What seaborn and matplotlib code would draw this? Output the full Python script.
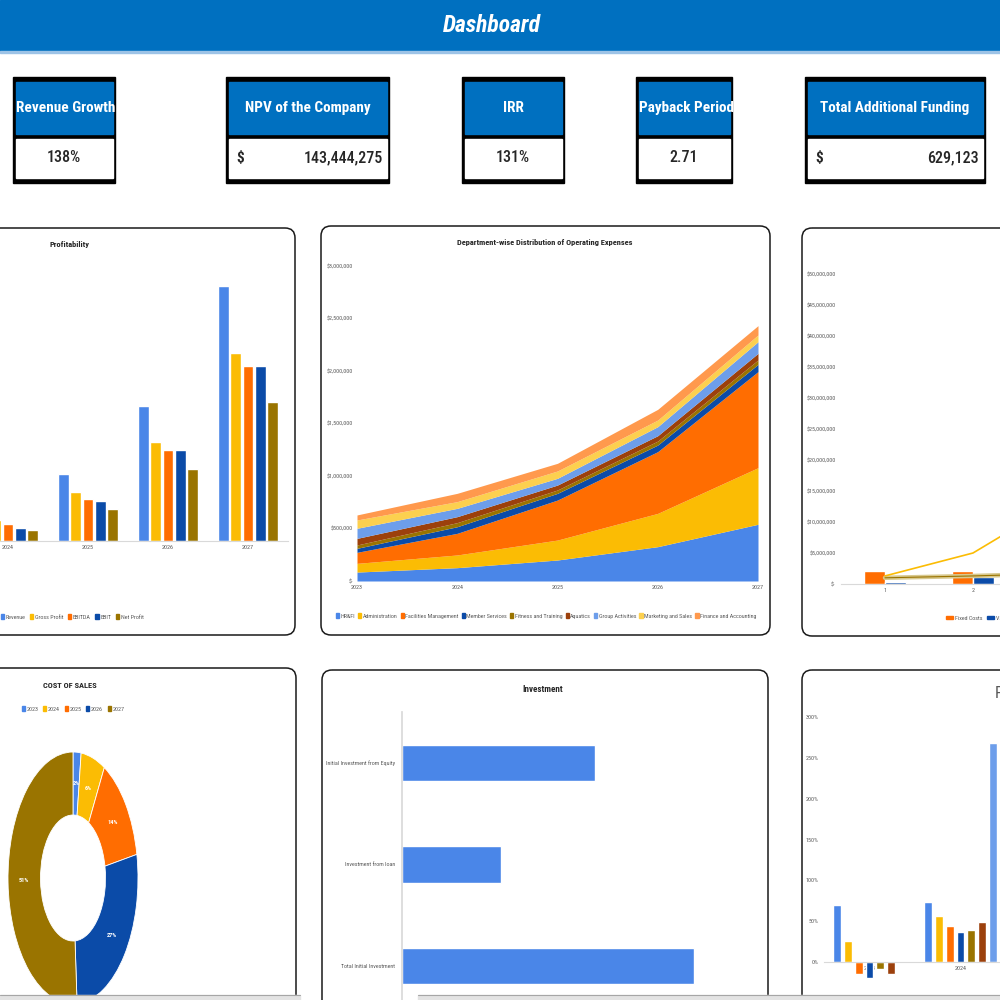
import numpy as np
import pandas as pd
import matplotlib
matplotlib.use("Agg")
import matplotlib.pyplot as plt
import seaborn as sns
from matplotlib.patches import Rectangle, FancyBboxPatch
from matplotlib import font_manager as fm
from matplotlib.ticker import FuncFormatter

# ---------------- data ----------------
years = ["2023", "2024", "2025", "2026", "2027"]

kpi_titles = ["Revenue Growth", "NPV of the Company", "IRR", "Payback Period", "Total Additional Funding"]
kpi_values = ["138%", "143,444,275", "131%", "2.71", "629,123"]
kpi_dollar = [False, True, False, False, True]

# Profitability ($M)
profit_metrics = ["Revenue", "Gross Profit", "EBITDA", "EBIT", "Net Profit"]
revenue = [1.3, 5.0, 13.5, 27.0, 51.0]
gross_profit = [0.9, 4.2, 9.8, 19.8, 37.6]
ebitda = [-0.2, 3.4, 8.4, 18.2, 35.0]
ebit = [-0.3, 2.6, 8.0, 18.2, 35.0]
net_profit = [-0.2, 2.2, 6.4, 14.4, 27.8]

# Department-wise operating expenses ($)
departments = ["HR&FI", "Administration", "Facilities Management", "Member Services",
               "Fitness and Training", "Aquatics", "Group Activities",
               "Marketing and Sales", "Finance and Accounting"]
hr_fi = [85000, 127000, 200000, 327000, 540000]
administration = [83000, 121000, 190000, 317000, 539000]
facilities = [105000, 206000, 381000, 588000, 915000]
member_services = [38000, 63000, 64000, 63000, 69000]
fitness_training = [32000, 39000, 32000, 38000, 42000]
aquatics = [63000, 57000, 47000, 51000, 63000]
group_activities = [96000, 79000, 64000, 86000, 111000]
marketing_sales = [79000, 64000, 70000, 63000, 64000]
finance_accounting = [48000, 79000, 73000, 102000, 89000]

# Break-even ($)
be_periods = ["1", "2", "3", "4", "5"]
be_fixed = [2.1e6, 2.1e6, 2.1e6, 2.1e6, 2.1e6]
be_variable = [0.4e6, 1.2e6, 3.0e6, 6.0e6, 11.0e6]
be_revenue = [1.3e6, 5.0e6, 13.5e6, 27.0e6, 51.0e6]
be_point = [1.0e6, 1.3e6, 1.7e6, 2.2e6, 2.8e6]

# Cost of sales share (%)
cos_share = [2, 6, 14, 27, 51]

# Investment ($)
inv_items = ["Initial Investment from Equity", "Investment from loan", "Total Initial Investment"]
inv_values = [415000, 214123, 629123]

# Ratios
ratio_names = ["Gross Margin", "EBITDA Margin", "EBIT Margin", "Net Margin",
               "Return on Assets", "Return on Equity", "Revenue Growth"]
gross_margin = [0.70, 0.73, 0.74, 0.75, 0.76]
ebitda_margin = [0.26, 0.57, 0.62, 0.67, 0.69]
ebit_margin = [-0.15, 0.44, 0.59, 0.67, 0.69]
net_margin = [-0.20, 0.37, 0.47, 0.53, 0.55]
roa = [-0.09, 0.39, 0.52, 0.60, 0.65]
roe = [-0.15, 0.49, 0.62, 0.70, 0.74]
rev_growth = [0.0, 2.68, 1.70, 1.00, 0.89]

# ---------------- style ----------------
BLUE = "#0070C0"
C_BLUE, C_YEL, C_ORA, C_DBL, C_OLV, C_BRN = "#4a86e8", "#fbbc04", "#ff6d01", "#0b4ba8", "#9a7400", "#9c400c"
C_LBL, C_LYE, C_LOR = "#6d9eeb", "#fcd04f", "#ff994d"
GREY_TXT = "#595959"

sns.set_theme(style="white")
avail = {f.name for f in fm.fontManager.ttflist}
NARROW = next((f for f in ["Liberation Sans Narrow", "Roboto Condensed", "Roboto", "DejaVu Sans"] if f in avail),
              "DejaVu Sans")
plt.rcParams["font.family"] = [NARROW, "DejaVu Sans"]

fig = plt.figure(figsize=(10, 10), dpi=100)


def px_axes(x0, y0, x1, y1, **kw):
    return fig.add_axes([x0 / 1000, 1 - y1 / 1000, (x1 - x0) / 1000, (y1 - y0) / 1000], **kw)


def style_axes(ax):
    ax.set_facecolor("none")
    for s in ["top", "right", "left"]:
        ax.spines[s].set_visible(False)
    ax.spines["bottom"].set_color("#d9d9d9")
    ax.spines["bottom"].set_linewidth(0.8)
    ax.tick_params(length=0, labelsize=4.3, colors=GREY_TXT, pad=3)
    ax.set_xlabel("")
    ax.set_ylabel("")


def add_legend(ax, colors, labels, cx, cy, loc="center", hl=0.55, hh=0.9, cs=0.8):
    handles = [Rectangle((0, 0), 1, 1, color=c) for c in colors]
    leg = ax.legend(handles, labels, loc=loc, bbox_to_anchor=(cx / 1000, 1 - cy / 1000),
                    bbox_transform=fig.transFigure, ncol=len(labels), frameon=False,
                    fontsize=4.3, handlelength=hl, handleheight=hh, handletextpad=0.25,
                    columnspacing=cs, borderaxespad=0, borderpad=0)
    for t in leg.get_texts():
        t.set_color(GREY_TXT)


bg = px_axes(0, 0, 1000, 1000)
bg.set_xlim(0, 1000)
bg.set_ylim(1000, 0)
bg.axis("off")

# header
bg.add_patch(Rectangle((0, 0), 1000, 51, color=BLUE))
bg.add_patch(Rectangle((0, 51), 1000, 2, color="#9dc3e6"))
bg.text(492, 25, "Dashboard", color="white", fontsize=17, fontweight="bold", fontstyle="italic",
        ha="center", va="center")

# KPI boxes
kpi_x = [(13, 115), (226, 389), (462, 564), (636, 732), (805, 985)]
renderer = fig.canvas.get_renderer()
for (x0, x1), title, val, dollar in zip(kpi_x, kpi_titles, kpi_values, kpi_dollar):
    bg.add_patch(Rectangle((x0, 77), x1 - x0, 106, color="black"))
    head = Rectangle((x0 + 2.5, 82), x1 - x0 - 5, 52, color=BLUE)
    bg.add_patch(head)
    bg.add_patch(Rectangle((x0 + 2.5, 139), x1 - x0 - 5, 39, color="white"))
    t = bg.text((x0 + x1) / 2, 108, title, color="white", fontsize=11, fontweight="bold",
                ha="center", va="center")
    t.set_clip_path(head)
    if t.get_window_extent(renderer).width > (x1 - x0 - 5):
        t.set_x(x0 + 3)
        t.set_ha("left")
    if dollar:
        bg.text(x0 + 10, 158, "$", fontsize=11, fontweight="bold", ha="left", va="center")
        bg.text(x1 - 6, 158, val, fontsize=11.5, fontweight="medium", ha="right", va="center")
    else:
        bg.text((x0 + x1) / 2, 158, val, fontsize=11.5, fontweight="medium", ha="center", va="center")

# panel titles
bg.text(69, 245, "Profitability", fontsize=6, fontweight="bold", ha="center", va="center")
bg.text(545, 243, "Department-wise Distribution of Operating Expenses", fontsize=6, fontweight="bold",
        ha="center", va="center")
bg.text(70, 685, "COST OF SALES", fontsize=6, fontweight="bold", ha="center", va="center")
bg.text(543, 690, "Investment", fontsize=6.5, fontweight="bold", ha="center", va="center")
bg.text(995, 693, "Profitability Ratios", fontsize=12, color=GREY_TXT, ha="left", va="center")

# ---------------- Profitability ----------------
profit_colors = [C_BLUE, C_YEL, C_ORA, C_DBL, C_OLV]
prof_df = pd.DataFrame({
    "Year": years * len(profit_metrics),
    "Metric": np.repeat(profit_metrics, len(years)),
    "Value": revenue + gross_profit + ebitda + ebit + net_profit,
})
ax = px_axes(-112, 241, 288, 541)
sns.barplot(data=prof_df, x="Year", y="Value", hue="Metric", hue_order=profit_metrics,
            palette=profit_colors, width=0.76, gap=0.1, saturation=1, legend=False, ax=ax)
ax.set_xlim(-0.5, 4.5)
ax.set_ylim(0, 60)
ax.set_yticks([])
style_axes(ax)
add_legend(ax, profit_colors, profit_metrics, 72, 617)

# ---------------- Department opex ----------------
opex = [hr_fi, administration, facilities, member_services, fitness_training, aquatics,
        group_activities, marketing_sales, finance_accounting]
opex_colors = [C_BLUE, C_YEL, C_ORA, C_DBL, C_OLV, C_BRN, C_LBL, C_LYE, C_LOR]
ax = px_axes(357, 266, 758, 581)
ax.stackplot(np.arange(len(years)), *opex, colors=opex_colors, linewidth=0)
ax.set_xlim(0, len(years) - 1)
ax.set_ylim(0, 3000000)
ax.set_xticks(np.arange(len(years)), years)
ax.set_yticks(np.arange(0, 3000001, 500000))
ax.yaxis.set_major_formatter(FuncFormatter(lambda v, p: "$-" if v == 0 else f"${v:,.0f}"))
style_axes(ax)
ax.spines["bottom"].set_visible(False)
add_legend(ax, opex_colors, departments, 546, 616, cs=0.5)

# ---------------- Break-even ----------------
be_df = pd.DataFrame({
    "Period": be_periods * 2,
    "Series": ["Fixed Costs"] * len(be_periods) + ["Variable Costs"] * len(be_periods),
    "Value": be_fixed + be_variable,
})
ax = px_axes(841, 274, 1281, 584)
sns.barplot(data=be_df, x="Period", y="Value", hue="Series", palette=[C_ORA, C_DBL],
            width=0.47, saturation=1, legend=False, ax=ax)
pos = np.arange(len(be_periods))
sns.lineplot(x=pos, y=be_point, color="#d8c98f", linewidth=3.2, ax=ax)
sns.lineplot(x=pos, y=be_point, color=C_OLV, linewidth=0.8, ax=ax)
sns.lineplot(x=pos, y=be_revenue, color=C_YEL, linewidth=1.2, ax=ax)
ax.set_xlim(-0.5, 4.5)
ax.set_ylim(0, 50e6)
ax.set_yticks(np.arange(0, 50e6 + 1, 5e6))
ax.yaxis.set_major_formatter(FuncFormatter(lambda v, p: "$-" if v == 0 else f"${v:,.0f}"))
style_axes(ax)
ax.tick_params(axis="y", pad=4)
add_legend(ax, [C_ORA, C_DBL, C_YEL, C_OLV],
           ["Fixed Costs", "Variable Costs", "Revenue", "Break-even Point"], 946, 618,
           loc="center left", hl=1.2, hh=0.5)

# ---------------- Cost of sales donut ----------------
cos_colors = [C_BLUE, C_YEL, C_ORA, C_DBL, C_OLV]
ax = px_axes(8, 752, 138, 1004)
ax.pie(cos_share, colors=cos_colors, startangle=90, counterclock=False,
       wedgeprops=dict(width=0.5, edgecolor="white", linewidth=0.6),
       autopct=lambda p: f"{p:.0f}%", pctdistance=0.75,
       textprops=dict(color="white", fontsize=4.5, fontweight="bold"))
ax.set_aspect("auto")
ax.set_xlim(-1, 1)
ax.set_ylim(-1, 1)
add_legend(ax, cos_colors, years, 73, 709)

# ---------------- Investment ----------------
inv_df = pd.DataFrame({"Item": inv_items, "Value": inv_values})
ax = px_axes(402, 712, 727, 1017)
sns.barplot(data=inv_df, x="Value", y="Item", orient="h", color=C_BLUE, width=0.355,
            saturation=1, ax=ax)
ax.set_xlim(0, 700000)
ax.set_ylim(2.5, -0.5)
ax.set_xticks([])
style_axes(ax)
ax.spines["bottom"].set_visible(False)
ax.spines["left"].set_visible(True)
ax.spines["left"].set_color("#d9d9d9")
ax.tick_params(axis="y", pad=5)

# ---------------- Ratios ----------------
ratio_colors = [C_BLUE, C_YEL, C_ORA, C_DBL, C_OLV, C_BRN, C_LBL]
ratio_df = pd.DataFrame({
    "Year": years * len(ratio_names),
    "Ratio": np.repeat(ratio_names, len(years)),
    "Value": gross_margin + ebitda_margin + ebit_margin + net_margin + roa + roe + rev_growth,
})
ax = px_axes(824, 717, 1279, 1003)
sns.barplot(data=ratio_df, x="Year", y="Value", hue="Ratio", hue_order=ratio_names,
            palette=ratio_colors, width=0.83, gap=0.26, saturation=1, legend=False, ax=ax)
ax.set_xlim(-0.5, 4.5)
ax.set_ylim(-0.5, 3.0)
ax.set_yticks(np.arange(0, 3.01, 0.5))
ax.yaxis.set_major_formatter(FuncFormatter(lambda v, p: f"{v:.0%}"))
style_axes(ax)
ax.spines["bottom"].set_position(("data", 0))
ax.tick_params(axis="y", pad=4)

# ---------------- overlay: panel frames and bottom strip ----------------
top = px_axes(0, 0, 1000, 1000)
top.set_xlim(0, 1000)
top.set_ylim(1000, 0)
top.axis("off")
panels = [(-20, 228, 295, 635), (321, 226, 770, 635), (802, 228, 1040, 636),
          (-20, 668, 296, 1040), (322, 670, 768, 1040), (802, 670, 1040, 1040)]
for x0, y0, x1, y1 in panels:
    top.add_patch(FancyBboxPatch((x0, y0), x1 - x0, y1 - y0, boxstyle="round,pad=0,rounding_size=10",
                                 fill=False, edgecolor="#1a1a1a", linewidth=1.1))
for x0, x1 in [(0, 300), (418, 1000)]:
    top.add_patch(Rectangle((x0, 995), x1 - x0, 5, color="#e3e3e3"))
    top.plot([x0, x1], [995, 995], color="#a6a6a6", linewidth=0.8)

fig.savefig("out.png", dpi=100)
